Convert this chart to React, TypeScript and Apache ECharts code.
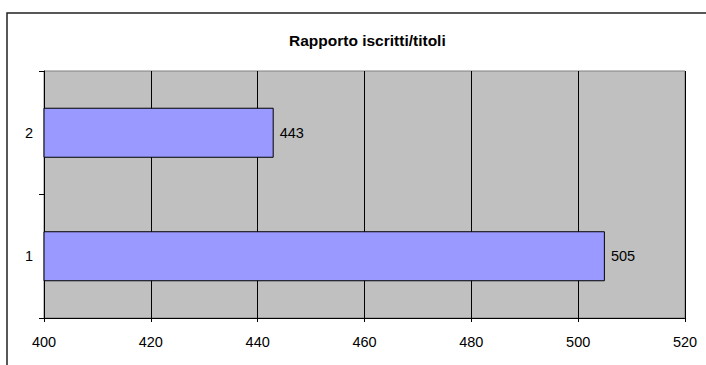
import React, { useEffect, useRef } from "react";
import * as echarts from "echarts";

const categories = ["1", "2"];
const values = [505, 443];
const xTicks = [400, 420, 440, 460, 480, 500, 520];
const titleText = "Rapporto iscritti/titoli";

const FONT = "Arial, 'Liberation Sans', sans-serif";

export default function App() {
  const ref = useRef<HTMLDivElement>(null);
  useEffect(() => {
    document.body.style.margin = "0";
    const chart = echarts.init(ref.current!, null, { renderer: "svg" });
    chart.setOption({
      animation: false,
      backgroundColor: "#ffffff",
      title: {
        text: titleText,
        left: 284,
        top: 27,
        textStyle: { fontFamily: FONT, fontSize: 15.5, fontWeight: "bold", color: "#000" },
      },
      graphic: [
        {
          type: "rect",
          shape: { x: 7, y: 13, width: 720, height: 380 },
          style: { fill: "none", stroke: "#222", lineWidth: 1.5 },
          silent: true,
          z: -1,
        },
      ],
      grid: {
        left: 44,
        top: 71,
        width: 641,
        height: 247,
        show: true,
        backgroundColor: "#c0c0c0",
        borderColor: "#808080",
        borderWidth: 1,
        containLabel: false,
      },
      xAxis: {
        type: "value",
        min: xTicks[0],
        max: xTicks[xTicks.length - 1],
        interval: 20,
        axisLine: { show: true, lineStyle: { color: "#000", width: 1 } },
        axisTick: { show: true, length: 4, lineStyle: { color: "#000" } },
        splitLine: { show: true, lineStyle: { color: "#000", width: 1 } },
        axisLabel: { margin: 16, fontFamily: FONT, fontSize: 14.5, color: "#000" },
      },
      yAxis: {
        type: "category",
        data: categories,
        axisLine: { show: true, lineStyle: { color: "#000", width: 1 } },
        axisTick: { show: true, length: 5, alignWithLabel: false, lineStyle: { color: "#000" } },
        splitLine: { show: false },
        axisLabel: { margin: 11, fontFamily: FONT, fontSize: 14.5, color: "#000" },
      },
      series: [
        {
          type: "bar",
          data: values,
          barWidth: "40.5%",
          itemStyle: { color: "#9999ff", borderColor: "#000", borderWidth: 1 },
          label: {
            show: true,
            position: "right",
            distance: 6,
            fontFamily: FONT,
            fontSize: 14.5,
            color: "#000",
          },
        },
      ],
    });
    return () => chart.dispose();
  }, []);
  return (
    <div
      ref={ref}
      style={{ position: "fixed", left: 0, top: 0, width: 706, height: 365 }}
    />
  );
}
